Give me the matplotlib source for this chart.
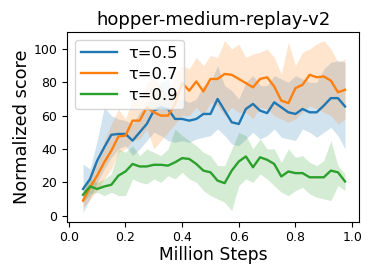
import numpy as np
import matplotlib
matplotlib.use('Agg')
import matplotlib.pyplot as plt

#%% Data
steps = np.arange(38) * 0.025 + 0.05

tau05_mean = [16, 22, 33, 41, 48.5, 49, 49, 45, 50, 55, 63, 65, 64, 58, 58, 57, 58, 61, 61,
              70, 63, 56, 55, 64, 67, 63, 61.5, 68, 65, 62, 61, 64, 62, 62, 66, 70.5, 70.5, 65.5]
tau05_low = [2, 10, 20, 28, 35, 40, 42, 36, 40, 45, 50, 48, 45, 44, 45, 44, 46, 47, 48,
             52, 48, 43, 42, 46, 50, 46, 48, 52, 47, 46, 45, 52, 50, 47, 50, 53, 48, 40]
tau05_high = [31, 28, 45, 65, 60, 58, 57, 55, 62, 66, 75, 80, 82, 70, 70, 68, 70, 78, 80,
              90, 78, 75, 70, 80, 84, 78, 78, 84, 82, 80, 84, 82, 80, 80, 88, 92, 93, 92]

tau07_mean = [9, 17, 24, 32, 39, 47.5, 48, 57, 57, 65, 62, 60, 60, 67, 79.5, 75, 80.5, 74.5, 82,
              82, 85, 84.5, 82, 79.5, 77, 82, 83, 77.5, 69, 67.5, 76.5, 78.5, 84.5, 83, 83.5, 81, 74, 75.5]
tau07_low = [5, 10, 15, 22, 28, 38, 40, 45, 46, 52, 40, 45, 50, 55, 60, 60, 65, 60, 68,
             66, 60, 65, 62, 62, 58, 65, 64, 60, 58, 56, 58, 62, 66, 64, 62, 60, 55, 58]
tau07_high = [14, 25, 32, 45, 55, 64, 58, 70, 68, 80, 82, 78, 72, 85, 90, 88, 95, 90, 96,
              95, 105, 100, 103, 95, 97, 98, 100, 95, 85, 104, 90, 98, 100, 103, 105, 100, 92, 94]

tau09_mean = [12.5, 17.5, 16, 17.5, 18.5, 24, 26.5, 31, 29.5, 29.5, 30.5, 30.5, 30, 32, 34.5, 34, 31, 27, 26,
              21, 19.5, 27, 32.5, 35.5, 29, 35, 33.5, 31, 23.5, 26.5, 25.5, 25.5, 23, 23, 23, 27, 26, 20.5]
tau09_low = [8, 13, 14, 12, 14, 12, 12, 22, 20, 19, 22, 20, 24, 22, 26, 22, 20, 15, 12,
             10, 8, 3, 18, 22, 20, 25, 22, 18, 14, 12, 15, 17, 13, 11, 10, 9, 18, 15]
tau09_high = [15, 22, 20, 22, 25, 40, 38, 42, 36, 40, 38, 36, 40, 52, 48, 45, 42, 38, 36,
              30, 30, 40, 50, 48, 40, 46, 40, 40, 32, 40, 35, 36, 32, 30, 33, 45, 30, 25]

labels = ['τ=0.5', 'τ=0.7', 'τ=0.9']
colors = ['#1f77b4', '#ff7f0e', '#2ca02c']

#%% Figure
fig = plt.figure(figsize=(3.73, 2.76), dpi=100)
ax = fig.add_axes([0.180, 0.197, 0.783, 0.686])

series = [(tau05_mean, tau05_low, tau05_high),
          (tau07_mean, tau07_low, tau07_high),
          (tau09_mean, tau09_low, tau09_high)]
for (m, lo, hi), lab, c in zip(series, labels, colors):
    ax.plot(steps, m, color=c, lw=1.7, label=lab)
    ax.fill_between(steps, lo, hi, color=c, alpha=0.2, lw=0)

ax.set_xlim(-0.006, 1.025)
ax.set_ylim(-3.6, 110)
ax.set_xticks([0.0, 0.2, 0.4, 0.6, 0.8, 1.0])
ax.set_yticks([0, 20, 40, 60, 80, 100])
ax.tick_params(labelsize=9, length=3.5)
ax.set_xlabel('Million Steps', fontsize=12.3, labelpad=1)
ax.set_ylabel('Normalized score', fontsize=12.8, labelpad=2)
ax.set_title('hopper-medium-replay-v2', fontsize=13, pad=5)
ax.legend(loc='upper left', fontsize=11.8, handlelength=2.2, handletextpad=0.65,
          borderaxespad=0.45, labelspacing=0.35, borderpad=0.4)

fig.savefig('out.png', dpi=100)
